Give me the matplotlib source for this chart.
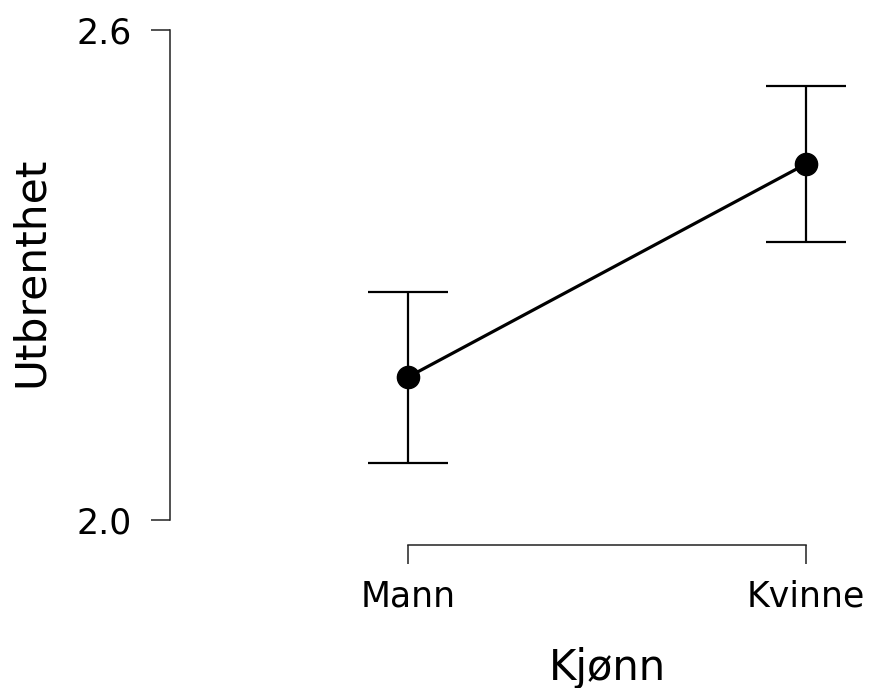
import matplotlib
matplotlib.use("Agg")
import matplotlib.pyplot as plt

categories = ["Mann", "Kvinne"]
means = [2.175, 2.436]
lower = [2.070, 2.340]
upper = [2.279, 2.531]
yticks = [2.0, 2.6]
yticklabels = ["2.0", "2.6"]
xlabel = "Kjønn"
ylabel = "Utbrenthet"

W, H = 869, 688
fig = plt.figure(figsize=(W / 100, H / 100), dpi=100)
left_px, right_px, top_px, bottom_px = 170, 850, 30, 545
ax = fig.add_axes([left_px / W, 1 - bottom_px / H, (right_px - left_px) / W, (bottom_px - top_px) / H])

x = list(range(len(categories)))
yerr = [[m - l for m, l in zip(means, lower)], [u - m for u, m in zip(upper, means)]]
ax.errorbar(x, means, yerr=yerr, fmt="none", ecolor="black", elinewidth=1.6,
            capsize=28.5, capthick=1.6, clip_on=False, zorder=2)
ax.plot(x, means, color="black", lw=2.3, marker="o", markersize=16, clip_on=False, zorder=3)

# data -> pixel mapping: Mann at 408, Kvinne at 806 ; 2.0 at 520, 2.6 at 30
px_per_x = 806 - 408
ax.set_xlim((left_px - 408) / px_per_x, (right_px - 408) / px_per_x)
px_per_y = (520 - 30) / 0.6
ax.set_ylim(2.0 - (bottom_px - 520) / px_per_y, 2.6)

ax.spines["top"].set_visible(False)
ax.spines["right"].set_visible(False)
ax.spines["left"].set_bounds(2.0, 2.6)
ax.spines["bottom"].set_bounds(0, 1)
for s in ("left", "bottom"):
    ax.spines[s].set_linewidth(1.1)
    ax.spines[s].set_color("#222222")

ax.set_xticks(x)
ax.set_xticklabels(categories)
ax.set_yticks(yticks)
ax.set_yticklabels(yticklabels)
ax.tick_params(axis="y", length=13.7, width=1.1, pad=13.5, labelsize=25, color="#222222")
ax.tick_params(axis="x", length=13.7, width=1.1, pad=11, labelsize=25, color="#222222")

ax.set_xlabel(xlabel, fontsize=30, labelpad=24)
ax.set_ylabel(ylabel, fontsize=30.5, labelpad=18)
ax.xaxis.label.set_x((607 - left_px) / (right_px - left_px))
ax.yaxis.label.set_y((bottom_px - 272) / (bottom_px - top_px))
ax.patch.set_visible(False)

fig.savefig("out.png", dpi=100)
